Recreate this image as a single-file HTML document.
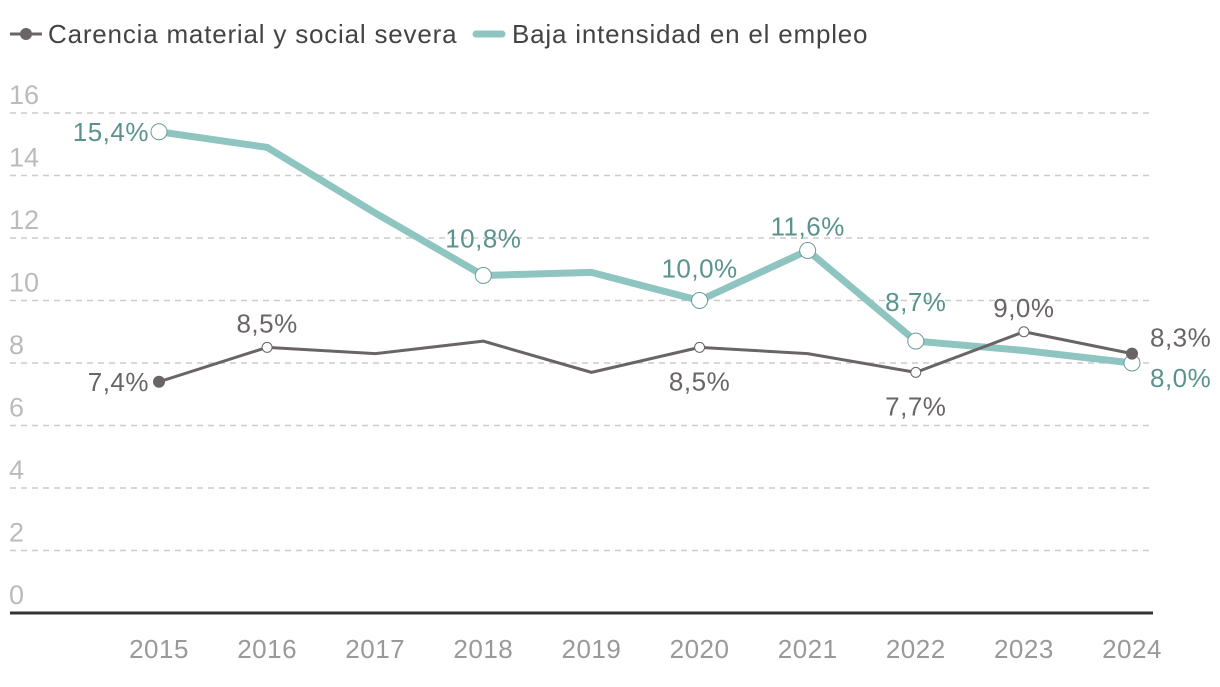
<!DOCTYPE html>
<html><head><meta charset="utf-8"><style>
body{margin:0;background:#fff;width:1220px;height:682px;overflow:hidden;font-family:"Liberation Sans",sans-serif}
svg text{font-family:"Liberation Sans",sans-serif}
</style></head><body>
<svg id="chart" width="1220" height="682">
<g>
 <g>
  <line x1="10" y1="34" x2="42" y2="34" stroke="#6b6466" stroke-width="3"/>
  <circle cx="26" cy="34" r="6" fill="#6b6466"/>
  <text x="48" y="43" font-size="26" fill="#444" letter-spacing="0.8">Carencia material y social severa</text>
 </g>
 <g>
  <line x1="476" y1="34" x2="502" y2="34" stroke="#8fc5c0" stroke-width="7" stroke-linecap="round"/>
  <text x="512" y="43" font-size="26" fill="#444" letter-spacing="0.8">Baja intensidad en el empleo</text>
 </g>
</g>
<g id="grid"></g><g id="series"></g>
</svg>
<script>
const years=[2015,2016,2017,2018,2019,2020,2021,2022,2023,2024];
const carencia=[7.4,8.5,8.3,8.7,7.7,8.5,8.3,7.7,9.0,8.3];
const baja=[15.4,14.9,12.8,10.8,10.9,10.0,11.6,8.7,8.4,8.0];
const yTicks=[0,2,4,6,8,10,12,14,16];
const carLabels=[[0,"7,4%","l"],[1,"8,5%","a"],[5,"8,5%","b"],[7,"7,7%","b"],[8,"9,0%","a"],[9,"8,3%","r"]];
const bajaLabels=[[0,"15,4%","l"],[3,"10,8%","a",-28],[5,"10,0%","a",-23],[6,"11,6%","a"],[7,"8,7%","a",-30],[9,"8,0%","r"]];
const NS="http://www.w3.org/2000/svg";
const x=i=>159+i*(1132-159)/(years.length-1);
const y=v=>613-v*31.25;
function mk(tag,attrs,parent){const e=document.createElementNS(NS,tag);for(const k in attrs)e.setAttribute(k,attrs[k]);parent.appendChild(e);return e;}
const grid=document.getElementById('grid'),ser=document.getElementById('series');
yTicks.forEach(t=>{
 if(t>0){const l=mk('line',{x1:10,x2:1153,y1:y(t),y2:y(t),stroke:'#ccc','stroke-width':1.5,'stroke-dasharray':'6,5'},grid);
 
 }
 const tx=mk('text',{x:9,y:y(t)-9,'font-size':27,fill:'#bbb'},grid);tx.textContent=t;
 
 
});
const base=mk('line',{x1:10,x2:1153,y1:613,y2:613,stroke:'#333','stroke-width':3},grid);


years.forEach((yr,i)=>{const t=mk('text',{x:x(i),y:658,'font-size':26,fill:'#999','text-anchor':'middle','letter-spacing':0.5},grid);t.textContent=yr;
 
 });
function line(data,color,w,name){
 const p=mk('polyline',{points:data.map((v,i)=>x(i)+','+y(v)).join(' '),fill:'none',stroke:color,'stroke-width':w,'stroke-linejoin':'round'},ser);
 
 
}
line(baja,'#8fc5c0',7,'baja-intensidad-line');
line(carencia,'#6b6466',3,'carencia-line');
function labels(data,labs,color,mcolor,r,name){
 labs.forEach(([i,s,pos,dy])=>{
  const cx=x(i),cy=y(data[i]);
  const filled=(name==='carencia'&&(i===0||i===9));
  const c=mk('circle',{cx:cx,cy:cy,r:filled?6:r,fill:filled?mcolor:'#fff',stroke:filled?'none':(name==='carencia'?'#6b6466':'#6a9e9a'),'stroke-width':1},ser);
  
  
  let tx=cx,ty=cy,anc='middle';
  if(pos==='l'){tx=cx-10;ty=cy+9;anc='end';}
  else if(pos==='r'){tx=cx+18;ty=cy+(name==='carencia'?-7:24);anc='start';}
  else if(pos==='a'){ty=cy+(dy!==undefined?dy:-15);}
  else {ty=cy+43;}
  const t=mk('text',{x:tx,y:ty,'font-size':26,fill:color,'text-anchor':anc,'letter-spacing':0.5},ser);t.textContent=s;
  
  
 });
}
labels(baja,bajaLabels,'#5a938e','#8fc5c0',8,'baja');
labels(carencia,carLabels,'#6b6466','#6b6466',5,'carencia');
</script>
</body></html>
